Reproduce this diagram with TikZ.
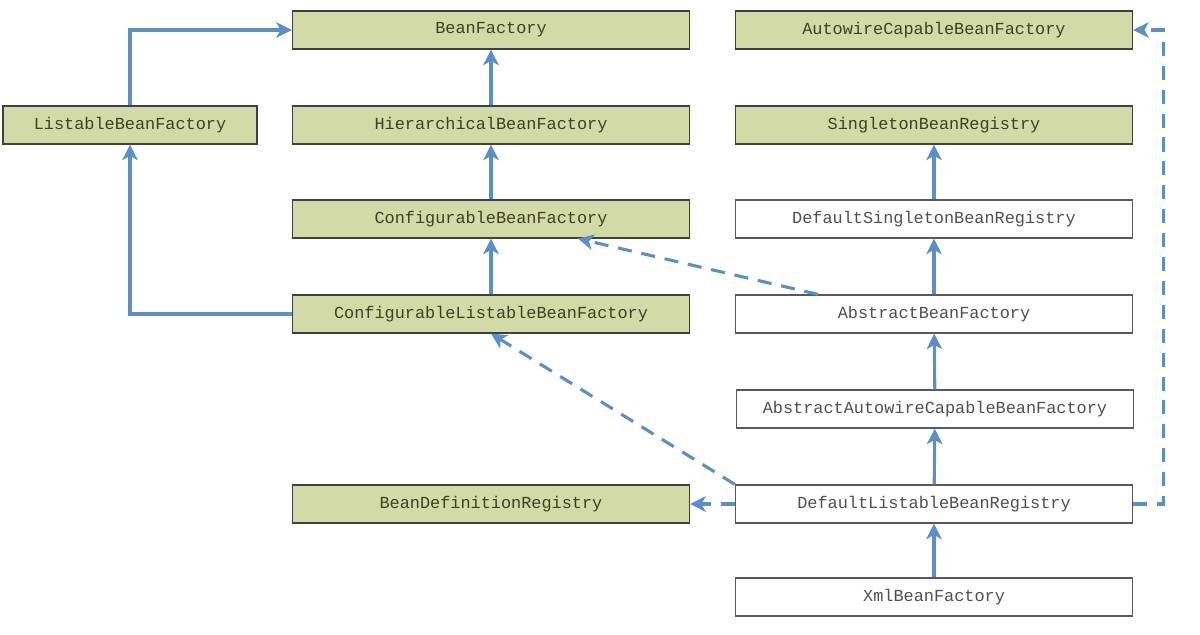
\documentclass[tikz,border=0pt]{standalone}
\usepackage{fontspec}
\setmonofont{Liberation Mono}
\usetikzlibrary{arrows.meta, calc}
\definecolor{boxgreen}{HTML}{D2DBA8}
\definecolor{linkblue}{HTML}{5B8FC7}
\definecolor{textdark}{HTML}{3F3F22}
\definecolor{textgray}{HTML}{505050}
\tikzset{
  iface/.style={draw=black!75,fill=boxgreen,line width=0.9pt,text=textdark,
    minimum width=9.925cm,minimum height=0.95cm,inner sep=0pt,
    font=\ttfamily\fontsize{12}{14}\selectfont},
  impl/.style={iface,draw=black!65,fill=white,text=textgray},
  inh/.style={draw=linkblue,line width=2.2pt,-{Stealth[length=11pt,width=11pt,inset=3pt]}},
  real/.style={inh,dash pattern=on 10pt off 7pt},
}

\begin{document}
\begin{tikzpicture}[x=0.025cm,y=-0.025cm]
	\useasboundingbox (0,0) rectangle (1200,634);
	% interfaces, left column
	\node[iface] (bf) at (491,30) {BeanFactory};
	\node[iface,minimum width=6.35cm] (lbf) at (130,125) {ListableBeanFactory};
	\node[iface] (hbf) at (491,125) {HierarchicalBeanFactory};
	\node[iface] (cbf) at (491,219) {ConfigurableBeanFactory};
	\node[iface] (clbf) at (491,314) {ConfigurableListableBeanFactory};
	\node[iface] (bdr) at (491,504) {BeanDefinitionRegistry};
	% right column
	\node[iface] (acbf) at (934,30) {AutowireCapableBeanFactory};
	\node[iface] (sbr) at (934,125) {SingletonBeanRegistry};
	\node[impl] (dsbr) at (934,219) {DefaultSingletonBeanRegistry};
	\node[impl] (abf) at (934,314) {AbstractBeanFactory};
	\node[impl] (aacbf) at (935,409) {AbstractAutowireCapableBeanFactory};
	\node[impl] (dlbr) at (934,504) {DefaultListableBeanRegistry};
	\node[impl] (xbf) at (934,597) {XmlBeanFactory};
	% extends
	\draw[inh] (lbf.north) |- (bf.west);
	\draw[inh] (clbf.west) -| (lbf.south);
	\draw[inh] (hbf) -- (bf);
	\draw[inh] (cbf) -- (hbf);
	\draw[inh] (clbf) -- (cbf);
	\draw[inh] (dsbr) -- (sbr);
	\draw[inh] (abf) -- (dsbr);
	\draw[inh] (aacbf) -- (abf);
	\draw[inh] (dlbr) -- (aacbf);
	\draw[inh] (xbf) -- (dlbr);
	% implements
	\draw[real] ($(abf.north)+(-116,0)$) -- ($(cbf.south)+(87,0)$);
	\draw[real] (dlbr.north west) -- (clbf.south);
	\draw[real] (dlbr.west) -- (bdr.east);
	\draw[real] (dlbr.east) -- ++(30,0) |- (acbf.east);
\end{tikzpicture}
\end{document}
